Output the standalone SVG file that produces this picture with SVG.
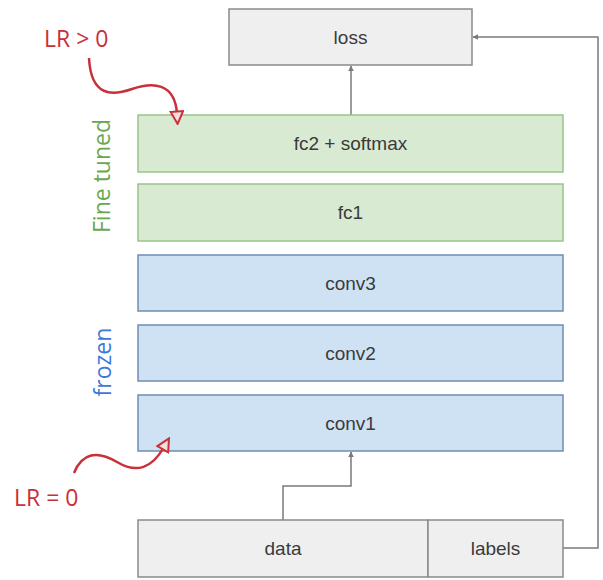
<svg xmlns="http://www.w3.org/2000/svg" width="603" height="580" viewBox="0 0 603 580">
  <style>
    .gray { fill: #efefef; stroke: #8a8a8a; stroke-width: 1.5; }
    .green { fill: #d9ead3; stroke: #9ac48a; stroke-width: 1.5; }
    .blue { fill: #cfe2f3; stroke: #6f8db0; stroke-width: 1.5; }
    .lbl { font-family: "Liberation Sans", Arial, sans-serif; font-size: 19px; fill: #3a3a3a; text-anchor: middle; dominant-baseline: central; }
    .side { font-family: "Open Sans", "Liberation Sans", sans-serif; font-size: 23px; text-anchor: middle; dominant-baseline: central; }
    .lr { font-family: "Open Sans", "Liberation Sans", sans-serif; font-size: 23px; fill: #c8303a; }
    .conn { fill: none; stroke: #7a7a7a; stroke-width: 1.5; }
    .wave { fill: none; stroke: #c8303a; stroke-width: 2.5; }
  </style>
  <defs>
    <marker id="gray-head" viewBox="0 0 10 10" refX="9" refY="5" markerWidth="4" markerHeight="4" orient="auto">
      <path d="M0 0 L10 5 L0 10 Z" fill="#7a7a7a"/>
    </marker>
    <marker id="red-head" viewBox="0 0 12 12" refX="3" refY="6" markerWidth="6" markerHeight="6" orient="auto" markerUnits="strokeWidth">
      <path d="M1 1 L11 6 L1 11 Z" fill="#f4dede" stroke="#c8303a" stroke-width="1.6"/>
    </marker>
  </defs>

  <rect width="603" height="580" fill="#ffffff"/>

  <!-- connectors -->
  <g id="connectors">
    <path class="conn" d="M351 115 V66" marker-end="url(#gray-head)"/>
    <path class="conn" d="M283 520 V486 H351 V452" marker-end="url(#gray-head)"/>
    <path class="conn" d="M563 548 H598 V37 H473" marker-end="url(#gray-head)"/>
  </g>

  <g id="loss">
    <rect class="gray" x="229" y="9" width="243" height="56"/>
    <text class="lbl" x="350.5" y="37">loss</text>
  </g>
  <g id="fc2">
    <rect class="green" x="138" y="115" width="425" height="57"/>
    <text class="lbl" x="350.5" y="143.5">fc2 + softmax</text>
  </g>
  <g id="fc1">
    <rect class="green" x="138" y="184" width="425" height="57"/>
    <text class="lbl" x="350.5" y="212.5">fc1</text>
  </g>
  <g id="conv3">
    <rect class="blue" x="138" y="255" width="425" height="56"/>
    <text class="lbl" x="350.5" y="283">conv3</text>
  </g>
  <g id="conv2">
    <rect class="blue" x="138" y="325" width="425" height="56"/>
    <text class="lbl" x="350.5" y="353">conv2</text>
  </g>
  <g id="conv1">
    <rect class="blue" x="138" y="395" width="425" height="56"/>
    <text class="lbl" x="350.5" y="423">conv1</text>
  </g>
  <g id="data">
    <rect class="gray" x="138" y="520" width="290" height="57"/>
    <text class="lbl" x="283" y="548.5">data</text>
  </g>
  <g id="labels">
    <rect class="gray" x="428" y="520" width="135" height="57"/>
    <text class="lbl" x="495.5" y="548.5">labels</text>
  </g>

  <!-- side labels -->
  <g id="fine-tuned">
    <text class="side" fill="#6aa84f" transform="translate(101 176) rotate(-90)">Fine tuned</text>
  </g>
  <g id="frozen">
    <text class="side" fill="#3c78d8" transform="translate(102 362) rotate(-90)">frozen</text>
  </g>

  <!-- learning-rate annotations -->
  <g id="lr-positive">
    <text class="lr" x="44" y="47">LR &gt; 0</text>
    <path class="wave" d="M89 58 C91 97, 112 96, 132 89 S175 82, 177 114" marker-end="url(#red-head)"/>
  </g>
  <g id="lr-zero">
    <text class="lr" x="14" y="506">LR = 0</text>
    <path class="wave" d="M74 473 C82 453, 97 450, 117 462 S152 468, 164 447" marker-end="url(#red-head)"/>
  </g>
</svg>
